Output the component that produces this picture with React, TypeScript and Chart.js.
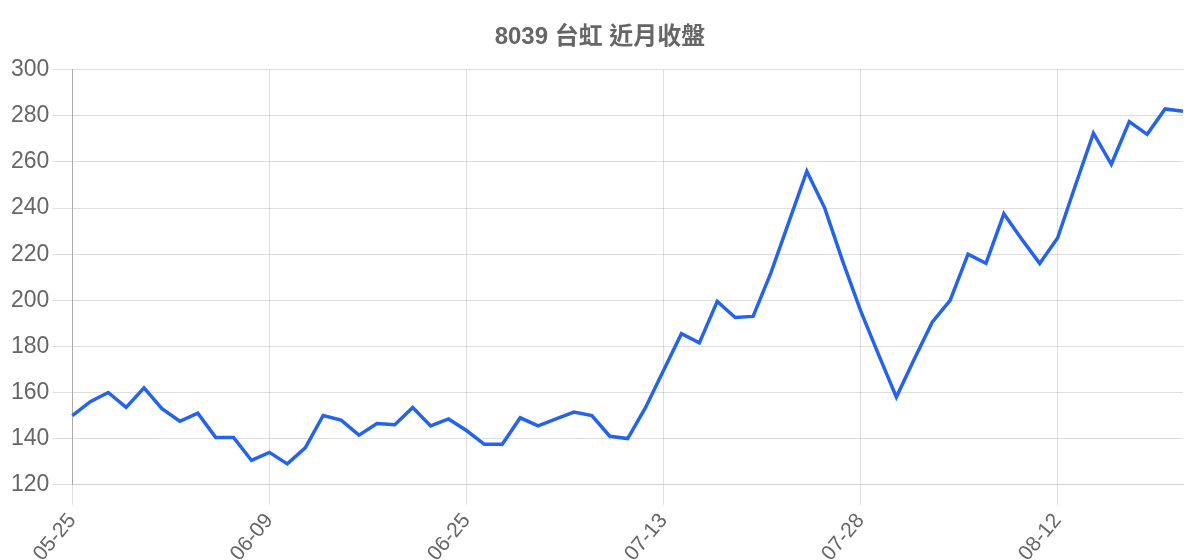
import React, { useEffect, useRef } from "react";
import { Chart, registerables } from "chart.js";

Chart.register(...registerables);

const TITLE = "8039 台虹 近月收盤";

const dates: string[] = [
  "05-25", "05-26", "05-27", "05-28", "05-31", "06-01", "06-02", "06-03", "06-04", "06-07",
  "06-08", "06-09", "06-10", "06-11", "06-15", "06-16", "06-17", "06-18", "06-21", "06-22",
  "06-23", "06-24", "06-25", "06-28", "06-29", "06-30", "07-01", "07-02", "07-05", "07-07",
  "07-08", "07-09", "07-12", "07-13", "07-14", "07-15", "07-16", "07-19", "07-20", "07-21",
  "07-22", "07-23", "07-26", "07-27", "07-28", "07-29", "07-30", "08-02", "08-03", "08-04",
  "08-05", "08-06", "08-09", "08-10", "08-11", "08-12", "08-13", "08-16", "08-17", "08-18",
  "08-19", "08-20", "08-23",
];

const closes: number[] = [
  150, 156, 160, 153.5, 162, 153, 147.5, 151, 140.5, 140.5,
  130.5, 134, 129, 136, 150, 148, 141.5, 146.5, 146, 153.5,
  145.5, 148.5, 143.5, 137.5, 137.5, 149, 145.5, 148.5, 151.5, 150,
  141, 140, 153.5, 169.5, 185.5, 181.5, 199.5, 192.5, 193, 212,
  234, 256, 240, 217, 195.5, 176.5, 158, 174.5, 190.5, 200,
  220, 216, 237.5, 226.5, 216, 227, 250, 272.5, 259, 277.5,
  272, 283, 282,
];

const yTicks = { min: 120, max: 300, step: 20 };

export default function App() {
  const canvasRef = useRef<HTMLCanvasElement | null>(null);

  useEffect(() => {
    const canvas = canvasRef.current;
    if (!canvas) return;
    const chart = new Chart(canvas, {
      type: "line",
      data: {
        labels: dates,
        datasets: [
          {
            label: "收盤",
            data: closes,
            borderColor: "#2563eb",
            backgroundColor: "#2563eb",
            borderWidth: 3.5,
            pointRadius: 0,
            tension: 0,
            fill: false,
          },
        ],
      },
      options: {
        animation: false,
        responsive: true,
        maintainAspectRatio: false,
        plugins: {
          legend: { display: false },
          tooltip: { enabled: false },
          title: {
            display: true,
            text: TITLE,
            color: "#666",
            font: {
              size: 24,
              weight: "bold",
              family: "'Liberation Sans', Arial, 'Noto Sans CJK TC', sans-serif",
            },
            padding: { top: 15, bottom: 18 },
          },
        },
        scales: {
          x: {
            afterFit: (scale: any) => {
              scale.paddingRight = 9;
            },
            grid: { color: "rgba(0,0,0,0.13)", tickLength: 20, tickColor: "rgba(0,0,0,0.13)" },
            border: { color: "#d0d0d0" },
            ticks: {
              color: "#666",
              maxRotation: 50,
              minRotation: 50,
              autoSkip: true,
              maxTicksLimit: 6,
              padding: 4,
              font: { size: 21, family: "'Liberation Sans', Arial, sans-serif" },
            },
          },
          y: {
            min: yTicks.min,
            max: yTicks.max,
            grid: { color: "rgba(0,0,0,0.13)", tickLength: 20, tickColor: "rgba(0,0,0,0.13)" },
            border: { color: "#aaa" },
            ticks: {
              stepSize: yTicks.step,
              color: "#666",
              padding: 3,
              font: { size: 23, family: "'Liberation Sans', Arial, sans-serif" },
            },
          },
        },
      },
    });
    return () => chart.destroy();
  }, []);

  return (
    <div style={{ width: "100%", height: 562, position: "relative" }}>
      <canvas ref={canvasRef} />
    </div>
  );
}
